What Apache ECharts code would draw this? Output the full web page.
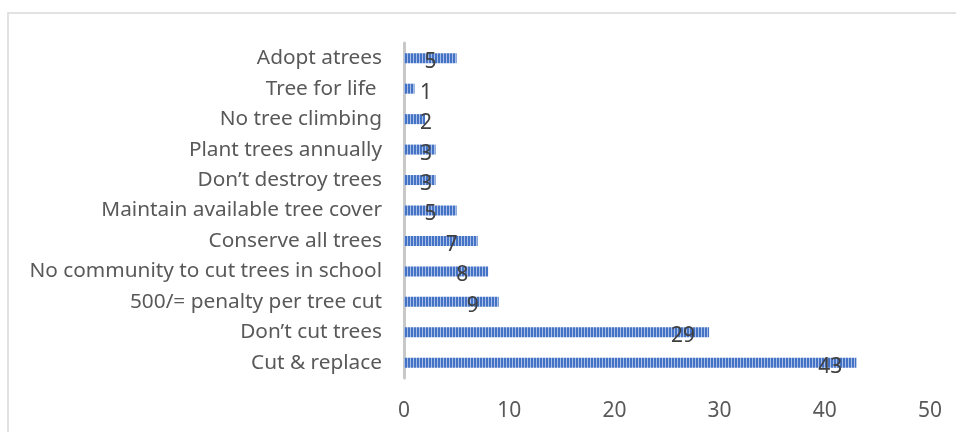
<!DOCTYPE html>
<html>
<head>
<meta charset="utf-8">
<script src="https://cdn.jsdelivr.net/npm/echarts@6/dist/echarts.min.js"></script>
<style>
  html, body { margin: 0; padding: 0; background: #fff; }
  #chart { width: 956px; height: 432px; }
</style>
</head>
<body>
<div id="chart"></div>
<script>
// Suggested measures and number of mentions
const categories = [
  'Adopt atrees',
  'Tree for life ',
  'No tree climbing',
  'Plant trees annually',
  'Don\u2019t destroy trees',
  'Maintain available tree cover',
  'Conserve all trees',
  'No community to cut trees in school',
  '500/= penalty per tree cut',
  'Don\u2019t cut trees',
  'Cut & replace'
];
const counts = [5, 1, 2, 3, 3, 5, 7, 8, 9, 29, 43];
const xTicks = { min: 0, max: 50, step: 10 };

// Striped fill for the bars
function stripePattern() {
  const c = document.createElement('canvas');
  c.width = 3; c.height = 4;
  const g = c.getContext('2d');
  g.fillStyle = '#4472C4';
  g.fillRect(0, 0, 2, 4);
  g.fillStyle = '#A9BEE6';
  g.fillRect(2, 0, 1, 4);
  return c;
}

const chart = echarts.init(document.getElementById('chart'), null, { renderer: 'canvas' });

const gridLeft = 404, gridRight = 26;
const pxPerUnit = (956 - gridLeft - gridRight) / (xTicks.max - xTicks.min);

// Value labels sit just inside the bar end, but never closer than ~22px to the axis
const barData = counts.map(v => {
  const endPx = v * pxPerUnit;
  const centre = Math.max(endPx - 26, 22);
  return {
    value: v,
    label: { position: 'insideLeft', distance: 0, offset: [centre, 4] }
  };
});

chart.setOption({
  animation: false,
  backgroundColor: '#fff',
  graphic: [{
    type: 'rect',
    shape: { x: 8, y: 13, width: 960, height: 440 },
    style: { fill: 'none', stroke: '#d9d9d9', lineWidth: 1.5 },
    silent: true
  }],
  grid: { left: gridLeft, right: gridRight, top: 43, bottom: 54, containLabel: false },
  xAxis: {
    type: 'value',
    min: xTicks.min, max: xTicks.max, interval: xTicks.step,
    axisLine: { show: false },
    axisTick: { show: false },
    splitLine: { show: false },
    axisLabel: { color: '#595959', fontSize: 21, fontFamily: 'Noto Sans', margin: 23 }
  },
  yAxis: {
    type: 'category',
    inverse: true,
    data: categories,
    axisLine: { show: true, lineStyle: { color: '#c8c8c8', width: 3 } },
    axisTick: { show: false },
    axisLabel: { color: '#595959', fontSize: 20.8, fontFamily: 'Noto Sans', margin: 22 }
  },
  series: [{
    type: 'bar',
    data: barData,
    barWidth: 10,
    itemStyle: { color: { image: stripePattern(), repeat: 'repeat' } },
    label: {
      show: true,
      color: '#404040',
      fontSize: 21,
      fontFamily: 'Noto Sans',
      align: 'center'
    }
  }]
});
</script>
</body>
</html>
